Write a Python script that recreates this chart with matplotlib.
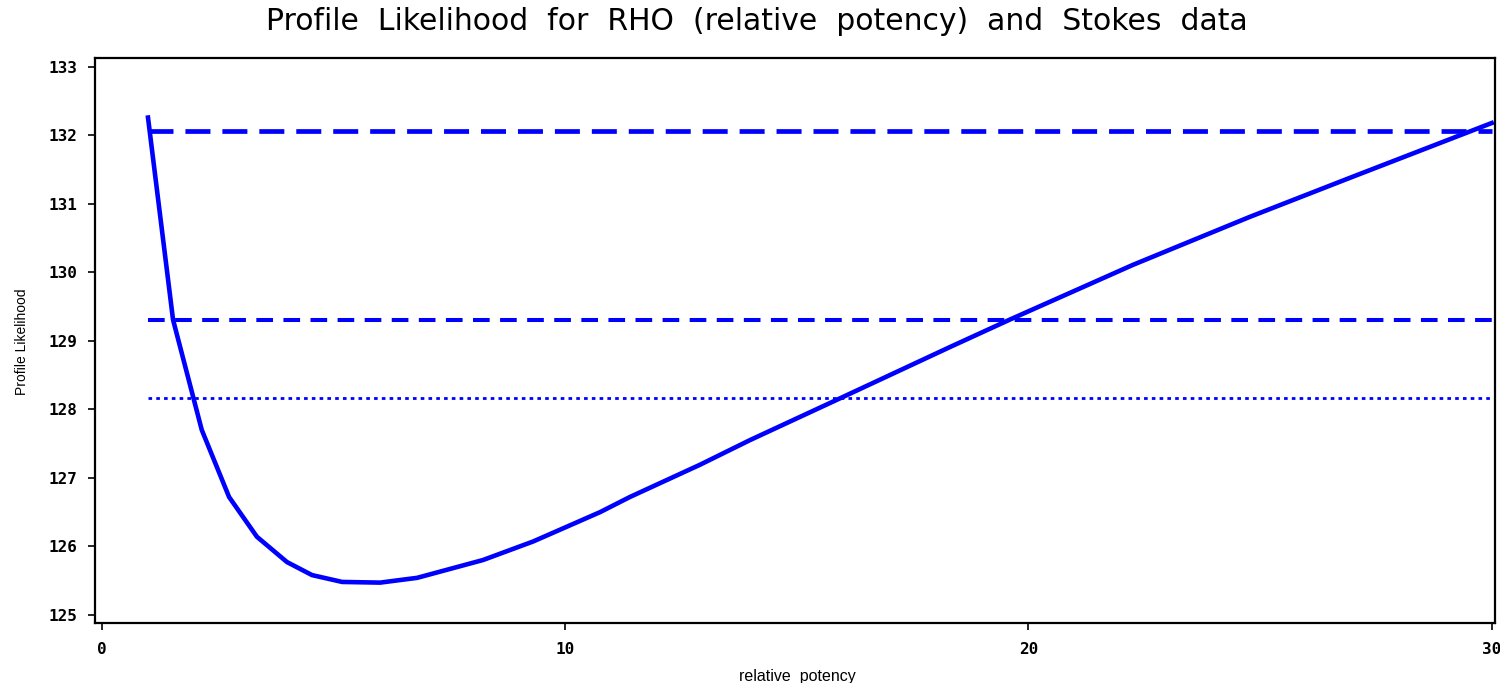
import matplotlib
matplotlib.use("Agg")
import matplotlib.pyplot as plt

# Data
rho = [1.00, 1.54, 2.16, 2.75, 3.35, 4.00, 4.54, 5.19, 6.01, 6.81, 8.23, 9.31,
       10.76, 11.40, 12.91, 13.99, 15.87, 18.31, 19.60, 22.26, 24.78, 26.94, 30.00]
profile_lik = [132.26, 129.31, 127.70, 126.72, 126.14, 125.77, 125.58, 125.48,
               125.47, 125.54, 125.80, 126.07, 126.50, 126.72, 127.19, 127.55,
               128.14, 128.91, 129.31, 130.11, 130.81, 131.38, 132.18]
ref_levels = [132.07, 129.30, 128.16]
ref_x = [1.0, 30.0]
x_ticks = [0, 10, 20, 30]
y_ticks = [125, 126, 127, 128, 129, 130, 131, 132, 133]

plt.rcParams['lines.scale_dashes'] = False
fig = plt.figure(figsize=(15, 6.83), dpi=100)
ax = fig.add_axes([0.0633, 0.0878, 0.9333, 0.8273])

blue = (0, 0, 1)
ax.plot(rho, profile_lik, color=blue, lw=3.3, solid_joinstyle='round')
ax.plot(ref_x, [ref_levels[0]] * 2, color=blue, lw=3.4, dashes=(18, 8.6))
ax.plot(ref_x, [ref_levels[1]] * 2, color=blue, lw=2.9, dashes=(12, 7.5))
ax.plot(ref_x, [ref_levels[2]] * 2, color=blue, lw=2.0, dashes=(2.6, 3.0))

ax.set_xlim(-0.145, 30.07)
ax.set_ylim(124.88, 133.13)
ax.set_xticks(x_ticks)
ax.set_yticks(y_ticks)
ax.set_xticklabels([str(v) for v in x_ticks], fontfamily='DejaVu Sans Mono',
                   fontweight='bold', fontsize=11.5)
ax.set_yticklabels([str(v) for v in y_ticks], fontfamily='DejaVu Sans Mono',
                   fontweight='bold', fontsize=11.5)
ax.tick_params(axis='both', direction='out', length=5, width=1.2, color='black')
ax.tick_params(axis='y', pad=8)
ax.tick_params(axis='x', pad=9)
for s in ax.spines.values():
    s.set_linewidth(1.6)
    s.set_color('black')

fig.text(797 / 1500, 1 - 676 / 683, 'relative  potency',
         fontfamily='Liberation Sans', fontsize=11.5, ha='center', va='center')
fig.text(22 / 1500, 1 - 342 / 683, 'Profile Likelihood', rotation=90,
         fontfamily='Liberation Sans', fontsize=10, ha='center', va='center')
fig.text(757 / 1500, 1 - 22 / 683,
         'Profile  Likelihood  for  RHO  (relative  potency)  and  Stokes  data',
         fontfamily='DejaVu Sans', fontsize=21.5, ha='center', va='center')

fig.savefig('out.png', dpi=100)
